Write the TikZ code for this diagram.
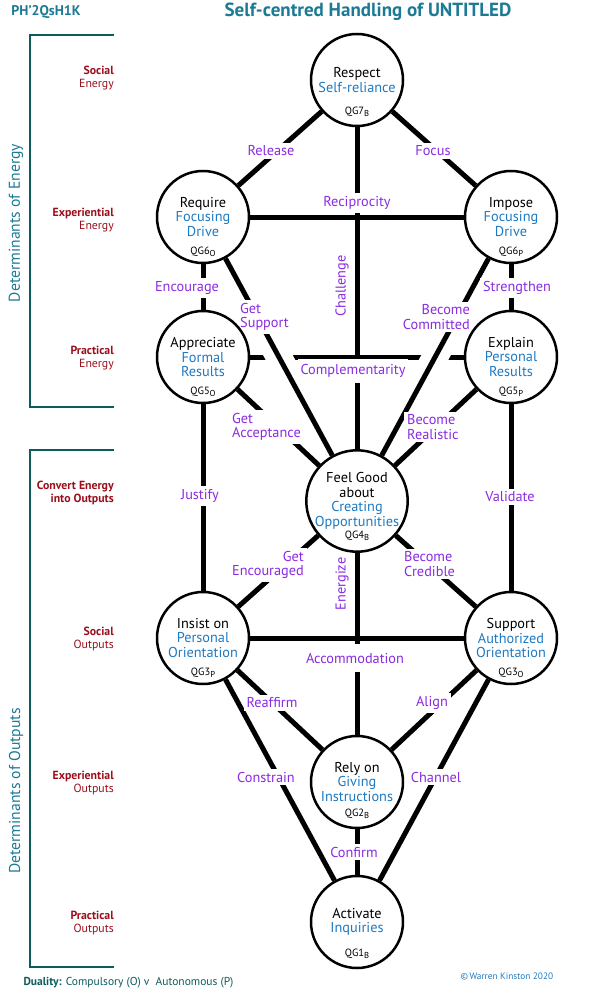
\documentclass[tikz,border=0pt]{standalone}
\usepackage{fontspec}
\setmainfont{PT Sans}
\usetikzlibrary{backgrounds}
\definecolor{QGteal}{HTML}{1C7A95}
\definecolor{QGdark}{HTML}{0D5C5C}
\definecolor{QGred}{HTML}{9A0F1B}
\definecolor{QGblue}{HTML}{1E7AC2}
\definecolor{QGpurple}{HTML}{8A2BE2}
\newcommand{\bl}[1]{\textcolor{QGblue}{#1}}
\newcommand{\qgsub}[1]{\raisebox{-1.6pt}{\fontsize{8.6}{9}\selectfont #1}}

\tikzset{
  qg/.style={circle, draw, line width=2.5pt, fill=white, minimum size=92pt, inner sep=0pt,
    align=center, font=\fontsize{14.3}{14.5}\selectfont},
  tag/.style={inner sep=0pt, font=\fontsize{10.5}{12}\selectfont},
  link/.style={line width=5pt},
  halo/.style={preaction={draw, white, line width=26pt}},
  lbl/.style={fill=white, text=QGpurple, inner sep=3pt, font=\fontsize{14.3}{14.5}\selectfont},
  side/.style={anchor=east, align=right, text=QGred, inner sep=0pt, font=\fontsize{11.8}{13.5}\selectfont},
  bracket/.style={draw=QGdark, line width=2.5pt},
}

\begin{document}
\begin{tikzpicture}[x=1pt, y=-1pt]
    \useasboundingbox (0,0) rectangle (595,995);

    \node[text=QGteal, font=\bfseries\fontsize{14}{16}\selectfont] (code) at (46,12) {PH’2QsH1K};
    \node[text=QGteal, font=\bfseries\fontsize{19}{22}\selectfont] (title) at (368,12) {Self-centred Handling of UNTITLED};

    \draw[bracket] (114,35) -- (30,35) -- (30,407) -- (114,407);
    \draw[bracket] (114,450) -- (30,450) -- (30,967) -- (114,967);
    \node[rotate=90, text=QGteal, font=\fontsize{15.7}{18}\selectfont] (energy) at (16,223) {Determinants of Energy};
    \node[rotate=90, text=QGteal, font=\fontsize{15.7}{18}\selectfont] (outputs) at (16,791) {Determinants of Outputs};

    \node[side] (socialE) at (114,78) {\textbf{Social}\\Energy};
    \node[side] (experE) at (114,220) {\textbf{Experiential}\\Energy};
    \node[side] (practE) at (114,358) {\textbf{Practical}\\Energy};
    \node[side] (convert) at (114,493) {\textbf{Convert Energy}\\\textbf{into Outputs}};
    \node[side] (socialO) at (114,639) {\textbf{Social}\\Outputs};
    \node[side] (experO) at (114,783) {\textbf{Experiential}\\Outputs};
    \node[side] (practO) at (114,923) {\textbf{Practical}\\Outputs};

    % the ten circles
    \node[qg] (respect) at (357,80) {Respect\\\bl{Self-reliance}};
    \node[qg] (require) at (203,217) {Require\\\bl{Focusing}\\\bl{Drive}};
    \node[qg] (impose) at (511,217) {Impose\\\bl{Focusing}\\\bl{Drive}};
    \node[qg] (appreciate) at (203,357) {Appreciate\\\bl{Formal}\\\bl{Results}};
    \node[qg] (explain) at (511,357) {Explain\\\bl{Personal}\\\bl{Results}};
    \node[qg] (feel) at (357,501) {Feel Good\\about\\\bl{Creating}\\\bl{Opportunities}};
    \node[qg] (insist) at (203,638) {Insist on\\\bl{Personal}\\\bl{Orientation}};
    \node[qg] (support) at (511,638) {Support\\\bl{Authorized}\\\bl{Orientation}};
    \node[qg] (rely) at (357,782) {Rely on\\\bl{Giving}\\\bl{Instructions}};
    \node[qg] (activate) at (357,922) {Activate\\\bl{Inquiries}};

    \node[tag] (respectT) at ([yshift=-32pt]respect.center) {QG7\qgsub{B}};
    \node[tag] (requireT) at ([yshift=-35pt]require.center) {QG6\qgsub{O}};
    \node[tag] (imposeT) at ([yshift=-35pt]impose.center) {QG6\qgsub{P}};
    \node[tag] (appreciateT) at ([yshift=-35pt]appreciate.center) {QG5\qgsub{O}};
    \node[tag] (explainT) at ([yshift=-35pt]explain.center) {QG5\qgsub{P}};
    \node[tag] (feelT) at ([yshift=-35pt]feel.center) {QG4\qgsub{B}};
    \node[tag] (insistT) at ([yshift=-35pt]insist.center) {QG3\qgsub{P}};
    \node[tag] (supportT) at ([yshift=-35pt]support.center) {QG3\qgsub{O}};
    \node[tag] (relyT) at ([yshift=-32pt]rely.center) {QG2\qgsub{B}};
    \node[tag] (activateT) at ([yshift=-32pt]activate.center) {QG1\qgsub{B}};

    \begin{scope}[on background layer]
        \draw[link] (require) -- (impose);
        \draw[link] (appreciate) -- (explain);
        \draw[link] (insist) -- (support);
        \draw[link, halo] (require) -- (feel);
        \draw[link, halo] (impose) -- (feel);

        \draw[link] (respect) -- (require);
        \draw[link] (respect) -- (impose);
        \draw[link] (respect) -- (feel);
        \draw[link] (require) -- (appreciate);
        \draw[link] (impose) -- (explain);
        \draw[link] (appreciate) -- (feel);
        \draw[link] (explain) -- (feel);
        \draw[link] (appreciate) -- (insist);
        \draw[link] (explain) -- (support);
        \draw[link] (feel) -- (insist);
        \draw[link] (feel) -- (support);
        \draw[link] (feel) -- (rely);
        \draw[link] (insist) -- (rely);
        \draw[link] (support) -- (rely);
        \draw[link] (insist) -- (activate);
        \draw[link] (support) -- (activate);
        \draw[link] (rely) -- (activate);

        \node[lbl] (release) at (271,151) {Release};
        \node[lbl] (focus) at (433,151) {Focus};
        \node[lbl] (recip) at (357,203) {Reciprocity};
        \node[lbl, rotate=90, fill=none] (challenge) at (342,286) {Challenge};
        \node[lbl] (encourage) at (187,288) {Encourage};
        \node[lbl] (strengthen) at (517,288) {Strengthen};
        \node[lbl, anchor=west, align=left] (getsupport) at (237,317) {Get\\Support};
        \node[lbl, anchor=east, align=right] (committed) at (473,317) {Become\\Committed};
        \node[lbl, inner ysep=5pt] (complement) at (353,371) {Complementarity};
        \node[lbl, anchor=west, align=left] (getaccept) at (229,427) {Get\\Acceptance};
        \node[lbl, anchor=west, align=left] (realistic) at (404,427) {Become\\Realistic};
        \node[lbl] (justify) at (200,496) {Justify};
        \node[lbl] (validate) at (510,497) {Validate};
        \node[lbl, anchor=east, align=right] (encouraged) at (307,565) {Get\\Encouraged};
        \node[lbl, anchor=west, align=left] (credible) at (401,564) {Become\\Credible};
        \node[lbl, rotate=90, fill=none] (energize) at (342,584) {Energize};
        \node[lbl, inner ysep=9pt] (accommod) at (355,658) {Accommodation};
        \node[lbl] (reaffirm) at (272,703) {Reaffirm};
        \node[lbl] (aligns) at (432,703) {Align};
        \node[lbl] (constrain) at (266,777) {Constrain};
        \node[lbl] (channel) at (436,777) {Channel};
        \node[lbl] (confirm) at (354,852) {Confirm};
    \end{scope}

    \node[anchor=west, text=QGdark, font=\fontsize{11.5}{13}\selectfont] (duality) at (20,983) {\textbf{Duality:} Compulsory (O) v\ \ Autonomous (P)};
    \node[anchor=west, text=QGblue, font=\fontsize{9.3}{10}\selectfont] (copy) at (457,976) {\textcopyright\,Warren Kinston 2020};
\end{tikzpicture}
\end{document}
